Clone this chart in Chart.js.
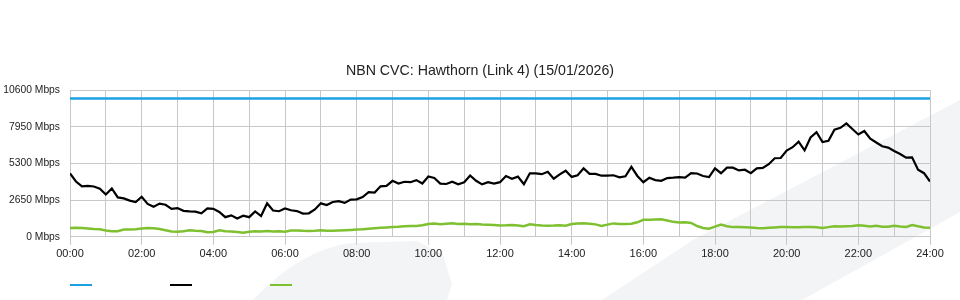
<!DOCTYPE html>
<html>
<head>
<meta charset="utf-8">
<script src="https://cdn.jsdelivr.net/npm/chart.js@4/dist/chart.umd.min.js"></script>
<style>
    html, body { margin: 0; padding: 0; background: #fff; }
    #wrap { width: 960px; height: 300px; position: relative; }
</style>
</head>
<body>
<div id="wrap"><canvas id="chartCvc"></canvas></div>
<script>
// readings every 10 minutes, 00:00 -> 24:00
const STEP_MINUTES = 10;

const capacityHours = [0, 24];
const capacityMbps = [10000, 10000];

const downloadMbps = [
    4590, 4000, 3650, 3680, 3640, 3480, 3060, 3500, 2850, 2780, 2620, 2520,
    2900, 2380, 2180, 2400, 2320, 2020, 2080, 1880, 1840, 1820, 1700, 2060,
    2020, 1800, 1420, 1550, 1320, 1530, 1420, 1830, 1500, 2420, 1900, 1850,
    2050, 1920, 1860, 1680, 1700, 1980, 2420, 2300, 2520, 2580, 2450, 2690,
    2710, 2880, 3230, 3200, 3650, 3680, 4050, 3850, 3980, 3950, 4100, 3850,
    4360, 4250, 3850, 3820, 3980, 3800, 3950, 4430, 4050, 3790, 3950, 3850,
    3950, 4400, 4200, 4350, 3800, 4590, 4590, 4530, 4700, 4200, 4520, 4780,
    4330, 4450, 4950, 4550, 4550, 4420, 4420, 4450, 4300, 4380, 5060, 4400,
    3950, 4270, 4100, 4050, 4250, 4280, 4320, 4280, 4600, 4580, 4400, 4320,
    4950, 4600, 5000, 5000, 4800, 4850, 4600, 4950, 4980, 5250, 5680, 5700,
    6240, 6480, 6880, 6250, 7180, 7560, 6850, 6950, 7750, 7880, 8200, 7800,
    7400, 7650, 7100, 6820, 6550, 6450, 6200, 5990, 5720, 5750, 4850, 4600,
    4000
];

const uploadMbps = [
    640, 650, 640, 600, 560, 540, 450, 400, 410, 520, 530, 540,
    600, 640, 620, 560, 480, 380, 360, 400, 470, 440, 420, 330,
    350, 470, 400, 380, 350, 290, 360, 400, 390, 420, 380, 400,
    370, 460, 450, 430, 420, 440, 470, 430, 440, 460, 480, 500,
    520, 540, 580, 620, 660, 680, 700, 720, 760, 780, 790, 830,
    930, 960, 900, 940, 980, 920, 950, 900, 930, 890, 880, 850,
    820, 830, 860, 820, 760, 900, 850, 820, 800, 810, 830, 800,
    920, 960, 980, 950, 900, 780, 880, 970, 930, 930, 940, 1050,
    1230, 1240, 1260, 1270, 1180, 1080, 1040, 1050, 1000, 780, 640, 590,
    740, 880, 760, 700, 700, 690, 680, 640, 620, 650, 680, 700,
    700, 690, 690, 700, 700, 690, 640, 700, 760, 740, 760, 780,
    840, 800, 740, 790, 720, 720, 790, 740, 710, 850, 760, 680,
    660
];

const hourTicks = [0, 1, 2, 3, 4, 5, 6, 7, 8, 9, 10, 11, 12, 13, 14, 15, 16, 17, 18, 19, 20, 21, 22, 23, 24];
const mbpsTicks = [0, 2650, 5300, 7950, 10600];

const sampleHours = downloadMbps.map((_, i) => i * STEP_MINUTES / 60);

Chart.defaults.font.family = "'Liberation Sans', Arial, sans-serif";
Chart.defaults.color = "#222";

const GRID = "#c8c8c8";

// faint logo shapes behind the plot
const watermark = {
    id: "watermark",
    beforeDraw(chart) {
        const ctx = chart.ctx;
        ctx.save();
        ctx.fillStyle = "#f3f4f6";
        ctx.beginPath();
        ctx.moveTo(253, 300);
        ctx.quadraticCurveTo(300, 250, 350, 243);
        ctx.lineTo(417, 241);
        ctx.lineTo(443, 255);
        ctx.lineTo(452, 284);
        ctx.lineTo(447, 300);
        ctx.closePath();
        ctx.fill();
        ctx.beginPath();
        ctx.moveTo(602, 300);
        ctx.lineTo(693, 240);
        ctx.lineTo(960, 100);
        ctx.lineTo(960, 212);
        ctx.lineTo(910, 240);
        ctx.lineTo(802, 300);
        ctx.closePath();
        ctx.fill();
        ctx.restore();
    }
};

// legend is just the coloured strokes, no text
const lineLegend = {
    id: "lineLegend",
    afterDraw(chart) {
        const ctx = chart.ctx;
        chart.data.datasets.forEach((ds, i) => {
            const x = chart.chartArea.left + i * 100;
            ctx.save();
            ctx.strokeStyle = ds.borderColor;
            ctx.lineWidth = 2;
            ctx.beginPath();
            ctx.moveTo(x, 285);
            ctx.lineTo(x + 22, 285);
            ctx.stroke();
            ctx.restore();
        });
    }
};

const ctxCvc = document.getElementById("chartCvc").getContext("2d");

new Chart(ctxCvc, {
    type: "line",
    data: {
        datasets: [
            {
                label: "Capacity",
                data: capacityHours.map((h, i) => ({ x: h, y: capacityMbps[i] })),
                borderColor: "#1ca1e2",
                borderWidth: 2.5,
                pointRadius: 0
            },
            {
                label: "Download",
                data: sampleHours.map((h, i) => ({ x: h, y: downloadMbps[i] })),
                borderColor: "#000000",
                borderWidth: 2.2,
                pointRadius: 0,
                tension: 0
            },
            {
                label: "Upload",
                data: sampleHours.map((h, i) => ({ x: h, y: uploadMbps[i] })),
                borderColor: "#7fc031",
                borderWidth: 2.5,
                pointRadius: 0,
                tension: 0
            }
        ]
    },
    options: {
        responsive: true,
        maintainAspectRatio: false,
        animation: false,
        layout: { padding: { top: 0, right: 0, bottom: 36, left: 0 } },
        plugins: {
            legend: { display: false },
            tooltip: { enabled: false },
            title: {
                display: true,
                text: "NBN CVC: Hawthorn (Link 4) (15/01/2026)",
                color: "#222",
                font: { size: 14.2, weight: "normal" },
                padding: { top: 63, bottom: 10.2 }
            }
        },
        scales: {
            x: {
                type: "linear",
                min: 0,
                max: 24,
                afterBuildTicks: (s) => { s.ticks = hourTicks.map(v => ({ value: v })); },
                ticks: {
                    autoSkip: false,
                    maxRotation: 0,
                    padding: 3,
                    font: { size: 11 },
                    callback: (v) => v % 2 === 0 ? String(v).padStart(2, "0") + ":00" : ""
                },
                grid: {
                    color: GRID,
                    tickLength: 8,
                    tickColor: (c) => (c.tick && c.tick.value % 2 === 0) ? GRID : "rgba(0,0,0,0)"
                },
                border: { color: GRID }
            },
            y: {
                min: 0,
                max: 10600,
                afterBuildTicks: (s) => { s.ticks = mbpsTicks.map(v => ({ value: v })); },
                afterFit: (s) => { s.width = 70; },
                ticks: {
                    padding: 10,
                    font: { size: 10.3 },
                    callback: (v) => v + " Mbps"
                },
                grid: { color: GRID, drawTicks: false },
                border: { color: GRID }
            },
            // empty strip on the right so the plot stops at 24:00 but the title stays centred
            yRight: {
                position: "right",
                min: 0,
                max: 10600,
                afterFit: (s) => { s.width = 30; },
                ticks: { display: false },
                grid: { display: false, drawTicks: false },
                border: { display: false }
            }
        }
    },
    plugins: [watermark, lineLegend]
});
</script>
</body>
</html>
